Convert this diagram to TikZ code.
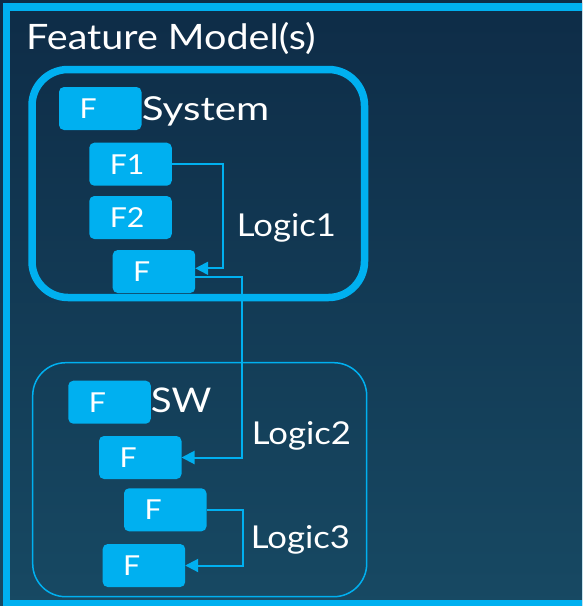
\documentclass[tikz,border=0pt]{standalone}
\usepackage{fontspec}
\setmainfont{Lato}[FakeStretch=1.1]
\newfontfamily\sysfont{Lato}[FakeStretch=1.22]
\newfontfamily\titlefont{Lato}[FakeStretch=1.13]
\usetikzlibrary{arrows.meta}
\definecolor{lb}{HTML}{00B0F0}
\definecolor{bgtop}{HTML}{0E2C47}
\definecolor{bgbot}{HTML}{174963}
\begin{document}
\begin{tikzpicture}[x=1pt,y=1pt,
  fbox/.style={fill=lb, rounded corners=5pt, minimum height=43pt, inner xsep=20.5pt, inner ysep=0pt,
    text width=41.5pt, align=left, text=white, font=\fontsize{27.5}{32}\selectfont, anchor=north west, outer sep=0pt},
  lbl/.style={text=white, anchor=base west, inner sep=0pt},
  grp/.style={draw=lb, anchor=north west, inner sep=0pt, outer sep=0pt},
  conn/.style={draw=lb, line width=2pt, -{Triangle[length=13pt,width=13pt]}},
]
\useasboundingbox (0,0) rectangle (582,-606);
\begin{scope}
\clip (0,0) rectangle (582,-606);
\shade[top color=bgtop, bottom color=bgbot] (0,0) rectangle (582,-606);
\draw[lb, line width=7.5pt] (6.7,-7) rectangle (585.5,-604);
\end{scope}

\node[lbl, font=\titlefont\fontsize{35}{42}\selectfont] (title) at (26,-49) {Feature Model(s)};

% System group
\node[grp, line width=7.5pt, rounded corners=36pt, minimum width=332.5pt, minimum height=228pt] (sys) at (32,-69.5) {};
\node[fbox] (sysF) at (59,-87) {F};
\node[lbl, font=\sysfont\fontsize{33}{40}\selectfont] (systxt) at (141.7,-120.7) {System};
\node[fbox] (f1) at (89.3,-142.7) {F1};
\node[fbox] (f2) at (89.3,-196) {F2};
\node[fbox] (sysOut) at (112.7,-250) {F};
\node[lbl, font=\fontsize{31.5}{38}\selectfont] (l1) at (236.7,-236) {Logic1};

% SW group
\node[grp, line width=1.5pt, rounded corners=33pt, minimum width=334pt, minimum height=234pt] (sw) at (32.7,-362.7) {};
\node[fbox] (swF) at (68.3,-380.7) {F};
\node[lbl, font=\titlefont\fontsize{34}{40}\selectfont] (swtxt) at (150.7,-412.7) {SW};
\node[fbox] (swIn) at (99,-436) {F};
\node[fbox] (swA) at (124,-488.3) {F};
\node[fbox] (swB) at (102.7,-544) {F};
\node[lbl, font=\fontsize{31.5}{38}\selectfont] (l2) at (251.7,-444.3) {Logic2};
\node[lbl, font=\fontsize{31.5}{38}\selectfont] (l3) at (250.7,-548.3) {Logic3};

% connectors
\coordinate (j1) at (223.3,0);
\coordinate (j2) at (241.7,0);
\coordinate (j3) at (242.7,0);
\coordinate (e1) at ([yshift=3.2pt]sysOut.east);
\coordinate (s2) at ([yshift=-5.5pt]sysOut.east);
\draw[conn] (f1.east) -- (f1.east -| j1) |- (e1);
\draw[conn] (s2) -- (s2 -| j2) |- (swIn.east);
\draw[conn] (swA.east) -- (swA.east -| j3) |- (swB.east);
\end{tikzpicture}
\end{document}
